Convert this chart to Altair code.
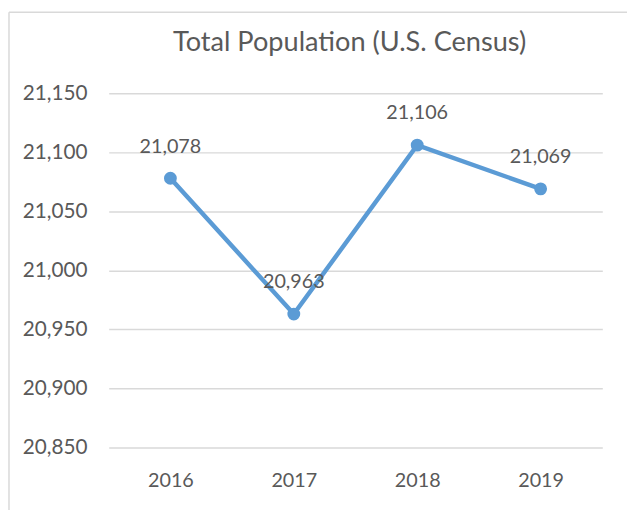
import altair as alt
import pandas as pd

years = ["2016", "2017", "2018", "2019"]
population = [21078, 20963, 21106, 21069]
y_ticks = [20850, 20900, 20950, 21000, 21050, 21100, 21150]

df = pd.DataFrame({"year": years, "pop": population})

FONT = "Lato"
GREY = "#595959"
BLUE = "#5B9BD5"

x = alt.X("year:O", scale=alt.Scale(type="point", padding=0.5),
          axis=alt.Axis(title=None, labelAngle=0, domain=False, ticks=False, tickSize=0,
                        labelPadding=23, labelFontSize=20, labelColor=GREY, labelFont=FONT))
y = alt.Y("pop:Q", scale=alt.Scale(domain=[20850, 21150], nice=False, zero=False),
          axis=alt.Axis(title=None, values=y_ticks, format=",.0f", domain=False, ticks=False, tickSize=0,
                        labelPadding=22, labelFontSize=21, labelColor=GREY, labelFont=FONT,
                        grid=True, gridColor="#d9d9d9", gridWidth=1.5))

base = alt.Chart(df).encode(x=x, y=y)
line = base.mark_line(color=BLUE, strokeWidth=4.5)
pts = base.mark_point(color=BLUE, filled=True, opacity=1, size=170)
labels = base.mark_text(dy=-32, fontSize=20, color=GREY, font=FONT).encode(
    text=alt.Text("pop:Q", format=",.0f"))

borders = alt.Chart(pd.DataFrame({"a": [0]})).mark_rule(color="#d9d9d9", strokeWidth=1.5).encode(
    x=alt.value(-101), x2=alt.value(-101), y=alt.value(-82), y2=alt.value(520)
)
topb = alt.Chart(pd.DataFrame({"a": [0]})).mark_rule(color="#d9d9d9", strokeWidth=1.5).encode(
    x=alt.value(-101), x2=alt.value(540), y=alt.value(-82)
)

chart = alt.layer(line, pts, labels, borders, topb).properties(
    width=500, height=359,
    padding={"left": 102, "top": 83, "right": 25, "bottom": 60},
    autosize=alt.AutoSizeParams(type="none"),
    title=alt.TitleParams("Total Population (U.S. Census)", font=FONT, fontSize=27.5, fontWeight="normal",
                          color=GREY, anchor="middle", frame="group", baseline="alphabetic",
                          dx=-6, offset=0, dy=68),
).configure(background="white").configure_view(strokeWidth=0, stroke=None)

chart.save("out.html", embed_options={"renderer": "svg", "actions": False})
